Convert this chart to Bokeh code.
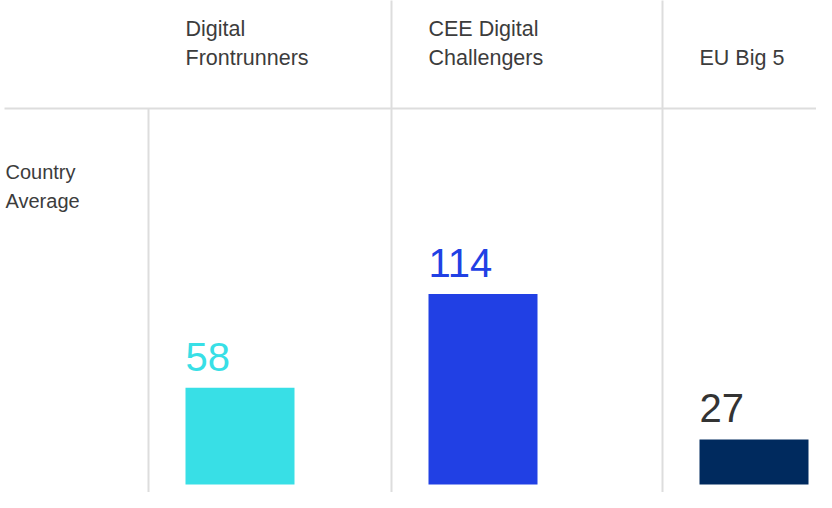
from bokeh.plotting import figure
from bokeh.models import Range1d
from bokeh.core.properties import value
from bokeh.embed import file_html
from bokeh.resources import INLINE

# ---- data ----
groups = ["Digital\nFrontrunners", "CEE Digital\nChallengers", "EU Big 5"]
values = [58, 114, 27]
row_label = "Country\nAverage"

# ---- styles ----
bar_colors = ["#38dfe6", "#2140e4", "#002a5e"]
label_colors = ["#38dfe6", "#2140e4", "#333333"]
grid_color = "#dddddd"
text_color = "#3c3c3c"
FONT = "Liberation Sans"

# ---- layout (screen-like pixel coordinates) ----
W, H = 816, 492
X0, Y0 = 0, 0
col_left = [148, 391, 662]
bar_pad = 37
bar_w = 109
header_line_y = 108
baseline_px = 484            # where value 0 sits
px_per_unit = 1.67
line_gap = 29
label_gap_px = 31

p = figure(width=W, height=H, output_backend="svg", toolbar_location=None,
           x_range=Range1d(X0, X0 + W),
           y_range=Range1d(-(Y0 + H - baseline_px) / px_per_unit,
                           (baseline_px - Y0) / px_per_unit),
           min_border=0, min_border_left=0, min_border_right=0,
           min_border_top=0, min_border_bottom=0)
p.extra_y_ranges = {"px": Range1d(Y0 + H, Y0)}
p.xaxis.visible = False
p.yaxis.visible = False
p.grid.visible = False
p.outline_line_color = None
p.background_fill_color = "white"
p.border_fill_color = "white"

# grid lines
p.segment(x0=[4], y0=[header_line_y], x1=[X0 + W + 10], y1=[header_line_y],
          line_color=grid_color, line_width=2, y_range_name="px")
p.segment(x0=[col_left[0]], y0=[header_line_y], x1=[col_left[0]], y1=[Y0 + H + 10],
          line_color=grid_color, line_width=2, y_range_name="px")
p.segment(x0=col_left[1:], y0=[-10] * (len(col_left) - 1), x1=col_left[1:],
          y1=[Y0 + H + 10] * (len(col_left) - 1),
          line_color=grid_color, line_width=2, y_range_name="px")

# bars
lefts = [c + bar_pad for c in col_left]
p.vbar(x=[l + bar_w / 2 for l in lefts], width=bar_w, bottom=0, top=values,
       fill_color=bar_colors, line_color=None)

# value labels
p.text(x=lefts, y=[v + label_gap_px / px_per_unit for v in values],
       text=[str(v) for v in values], text_color=label_colors,
       text_font=value(FONT), text_font_size="40px", text_baseline="alphabetic",
       text_align="left")

# headers (bottom-aligned lines)
hx, hy, ht = [], [], []
for l, g in zip(lefts, groups):
    lines = g.split("\n")
    n = len(lines)
    for i, t in enumerate(lines):
        hx.append(l)
        hy.append(57 - (n - 1 - i) * line_gap)
        ht.append(t)
p.text(x=hx, y=hy, text=ht, text_color=text_color, text_font=value(FONT),
       text_font_size="21.5px", text_baseline="middle", text_align="left",
       y_range_name="px")

# row label (top-aligned lines)
rl = row_label.split("\n")
p.text(x=[5] * len(rl), y=[171 + i * line_gap for i in range(len(rl))], text=rl,
       text_color=text_color, text_font=value(FONT), text_font_size="20px",
       text_baseline="middle", text_align="left", y_range_name="px")

open("out.html", "w").write(file_html(p, INLINE))
